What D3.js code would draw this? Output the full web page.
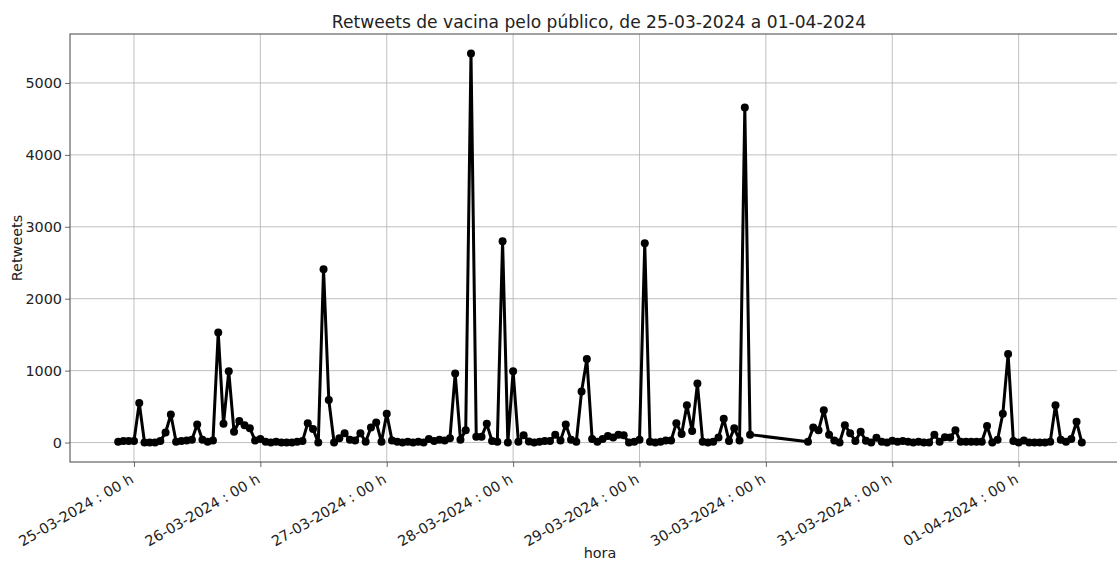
<!DOCTYPE html>
<html>
<head>
<meta charset="utf-8">
<script src="https://cdn.jsdelivr.net/npm/d3@7"></script>
<style>
  html, body { margin: 0; padding: 0; background: #fff; }
  svg { display: block; font-family: "DejaVu Sans", sans-serif; }
</style>
</head>
<body>
<svg id="chart" width="1117" height="561"></svg>
<script>
// ---- DATA ----
const chartTitle = "Retweets de vacina pelo público, de 25-03-2024 a 01-04-2024";
const xLabel = "hora";
const yLabel = "Retweets";

const times = [
  "2024-03-24 21","2024-03-24 22","2024-03-24 23",
  "2024-03-25 00","2024-03-25 01","2024-03-25 02","2024-03-25 03","2024-03-25 04","2024-03-25 05","2024-03-25 06","2024-03-25 07",
  "2024-03-25 08","2024-03-25 09","2024-03-25 10","2024-03-25 11","2024-03-25 12","2024-03-25 13","2024-03-25 14","2024-03-25 15",
  "2024-03-25 16","2024-03-25 17","2024-03-25 18","2024-03-25 19","2024-03-25 20","2024-03-25 21","2024-03-25 22","2024-03-25 23",
  "2024-03-26 00","2024-03-26 01","2024-03-26 02","2024-03-26 03","2024-03-26 04","2024-03-26 05","2024-03-26 06","2024-03-26 07",
  "2024-03-26 08","2024-03-26 09","2024-03-26 10","2024-03-26 11","2024-03-26 12","2024-03-26 13","2024-03-26 14","2024-03-26 15",
  "2024-03-26 16","2024-03-26 17","2024-03-26 18","2024-03-26 19","2024-03-26 20","2024-03-26 21","2024-03-26 22","2024-03-26 23",
  "2024-03-27 00","2024-03-27 01","2024-03-27 02","2024-03-27 03","2024-03-27 04","2024-03-27 05","2024-03-27 06","2024-03-27 07",
  "2024-03-27 08","2024-03-27 09","2024-03-27 10","2024-03-27 11","2024-03-27 12","2024-03-27 13","2024-03-27 14","2024-03-27 15",
  "2024-03-27 16","2024-03-27 17","2024-03-27 18","2024-03-27 19","2024-03-27 20","2024-03-27 21","2024-03-27 22","2024-03-27 23",
  "2024-03-28 00","2024-03-28 01","2024-03-28 02","2024-03-28 03","2024-03-28 04","2024-03-28 05","2024-03-28 06","2024-03-28 07",
  "2024-03-28 08","2024-03-28 09","2024-03-28 10","2024-03-28 11","2024-03-28 12","2024-03-28 13","2024-03-28 14","2024-03-28 15",
  "2024-03-28 16","2024-03-28 17","2024-03-28 18","2024-03-28 19","2024-03-28 20","2024-03-28 21","2024-03-28 22","2024-03-28 23",
  "2024-03-29 00","2024-03-29 01","2024-03-29 02","2024-03-29 03","2024-03-29 04","2024-03-29 05","2024-03-29 06","2024-03-29 07",
  "2024-03-29 08","2024-03-29 09","2024-03-29 10","2024-03-29 11","2024-03-29 12","2024-03-29 13","2024-03-29 14","2024-03-29 15",
  "2024-03-29 16","2024-03-29 17","2024-03-29 18","2024-03-29 19","2024-03-29 20","2024-03-29 21",
  "2024-03-30 08","2024-03-30 09","2024-03-30 10","2024-03-30 11","2024-03-30 12","2024-03-30 13","2024-03-30 14","2024-03-30 15",
  "2024-03-30 16","2024-03-30 17","2024-03-30 18","2024-03-30 19","2024-03-30 20","2024-03-30 21","2024-03-30 22","2024-03-30 23",
  "2024-03-31 00","2024-03-31 01","2024-03-31 02","2024-03-31 03","2024-03-31 04","2024-03-31 05","2024-03-31 06","2024-03-31 07",
  "2024-03-31 08","2024-03-31 09","2024-03-31 10","2024-03-31 11","2024-03-31 12","2024-03-31 13","2024-03-31 14","2024-03-31 15",
  "2024-03-31 16","2024-03-31 17","2024-03-31 18","2024-03-31 19","2024-03-31 20","2024-03-31 21","2024-03-31 22","2024-03-31 23",
  "2024-04-01 00","2024-04-01 01","2024-04-01 02","2024-04-01 03","2024-04-01 04","2024-04-01 05","2024-04-01 06","2024-04-01 07",
  "2024-04-01 08","2024-04-01 09","2024-04-01 10","2024-04-01 11","2024-04-01 12"
];

const retweets = [
  10, 20, 20,
  20, 550, 0, 0, 0, 20, 140, 390, 10, 20, 30, 40, 250, 40, 10, 30, 1530, 260, 990, 150, 300, 240, 200, 30,
  50, 10, 0, 10, 0, 0, 0, 10, 20, 270, 190, 0, 2410, 590, 0, 60, 130, 40, 30, 130, 10, 210, 280, 10,
  400, 30, 10, 0, 10, 0, 10, 0, 50, 20, 40, 30, 60, 960, 40, 170, 5410, 80, 80, 260, 20, 10, 2800, 0,
  990, 10, 100, 15, 0, 10, 20, 20, 110, 30, 250, 40, 10, 710, 1160, 50, 10, 50, 90, 70, 110, 100, 0, 10,
  40, 2770, 10, 0, 10, 30, 30, 270, 120, 520, 160, 820, 10, 0, 10, 70, 330, 20, 200, 30, 4660, 110,
  10, 210, 170, 450, 110, 30, 0, 240, 130, 20, 150, 25, 0, 65, 10, 0,
  25, 10, 20, 10, 0, 10, 0, 0, 110, 10, 75, 70, 170, 10, 10, 10, 10, 10, 230, 0, 40, 400, 1230, 20,
  0, 30, 0, 0, 0, 0, 10, 520, 40, 10, 50, 290, 0
];

const xTickTimes = ["2024-03-25 00","2024-03-26 00","2024-03-27 00","2024-03-28 00",
                    "2024-03-29 00","2024-03-30 00","2024-03-31 00","2024-04-01 00"];
const xTickLabels = ["25-03-2024 : 00 h","26-03-2024 : 00 h","27-03-2024 : 00 h","28-03-2024 : 00 h",
                     "29-03-2024 : 00 h","30-03-2024 : 00 h","31-03-2024 : 00 h","01-04-2024 : 00 h"];
const yTicks = [0, 1000, 2000, 3000, 4000, 5000];

// ---- DRAW ----
(function () {
const parse = d3.timeParse("%Y-%m-%d %H");
const data = times.map((t, i) => ({ t: parse(t), v: retweets[i] }));

const pLeft = 70, pRight = 1130, pTop = 34, pBottom = 462;
const svg = d3.select("#chart");

const tExt = d3.extent(data, d => +d.t);
const tPad = (tExt[1] - tExt[0]) * 0.05;
const x = d3.scaleTime()
  .domain([new Date(tExt[0] - tPad), new Date(tExt[1] + tPad)])
  .range([pLeft, pRight]);

const vExt = d3.extent(data, d => d.v);
const vPad = (vExt[1] - vExt[0]) * 0.05;
const y = d3.scaleLinear()
  .domain([vExt[0] - vPad, vExt[1] + vPad])
  .range([pBottom, pTop]);

const fontSize = 14.4;
const gridColor = "#b0b0b0";
const spineColor = "#444";

// grid
const tickDates = xTickTimes.map(parse);
svg.append("g").selectAll("line").data(tickDates).join("line")
  .attr("x1", d => x(d)).attr("x2", d => x(d))
  .attr("y1", pTop).attr("y2", pBottom)
  .attr("stroke", gridColor).attr("stroke-width", 0.8);
svg.append("g").selectAll("line").data(yTicks).join("line")
  .attr("x1", pLeft).attr("x2", pRight)
  .attr("y1", d => y(d)).attr("y2", d => y(d))
  .attr("stroke", gridColor).attr("stroke-width", 0.8);

// axes
const xAxis = d3.axisBottom(x).tickValues(tickDates)
  .tickFormat((d, i) => xTickLabels[i]).tickSize(5).tickPadding(5);
const gx = svg.append("g").attr("transform", `translate(0,${pBottom})`).call(xAxis);
gx.select(".domain").remove();
gx.selectAll(".tick line").attr("stroke", spineColor).attr("stroke-width", 0.8);
gx.selectAll(".tick text")
  .attr("font-family", "DejaVu Sans").attr("font-size", fontSize).attr("fill", "#222")
  .attr("text-anchor", "end")
  .attr("y", 0).attr("dy", 0)
  .attr("dominant-baseline", "hanging")
  .attr("transform", "translate(-5,11) rotate(-30)");

const yAxis = d3.axisLeft(y).tickValues(yTicks).tickFormat(d3.format("d")).tickSize(5).tickPadding(3);
const gy = svg.append("g").attr("transform", `translate(${pLeft},0)`).call(yAxis);
gy.select(".domain").remove();
gy.selectAll(".tick line").attr("stroke", spineColor).attr("stroke-width", 0.8);
gy.selectAll(".tick text")
  .attr("font-family", "DejaVu Sans").attr("font-size", fontSize).attr("fill", "#222");

// spines
svg.append("rect")
  .attr("x", pLeft).attr("y", pTop).attr("width", pRight - pLeft).attr("height", pBottom - pTop)
  .attr("fill", "none").attr("stroke", spineColor).attr("stroke-width", 1);

// line + markers
const line = d3.line().x(d => x(d.t)).y(d => y(d.v));
svg.append("path").datum(data)
  .attr("d", line).attr("fill", "none")
  .attr("stroke", "#000").attr("stroke-width", 3).attr("stroke-linejoin", "round");
svg.append("g").selectAll("circle").data(data).join("circle")
  .attr("cx", d => x(d.t)).attr("cy", d => y(d.v)).attr("r", 4).attr("fill", "#000");

// labels
svg.append("text").attr("x", (pLeft + pRight) / 2 - 1).attr("y", 28)
  .attr("text-anchor", "middle").attr("font-size", 17.1).attr("fill", "#222").text(chartTitle);
svg.append("text").attr("x", (pLeft + pRight) / 2).attr("y", 558)
  .attr("text-anchor", "middle").attr("font-size", fontSize).attr("fill", "#222").text(xLabel);
svg.append("text").attr("transform", `translate(22,${(pTop + pBottom) / 2}) rotate(-90)`)
  .attr("text-anchor", "middle").attr("font-size", fontSize).attr("fill", "#222").text(yLabel);
})();
</script>
</body>
</html>
